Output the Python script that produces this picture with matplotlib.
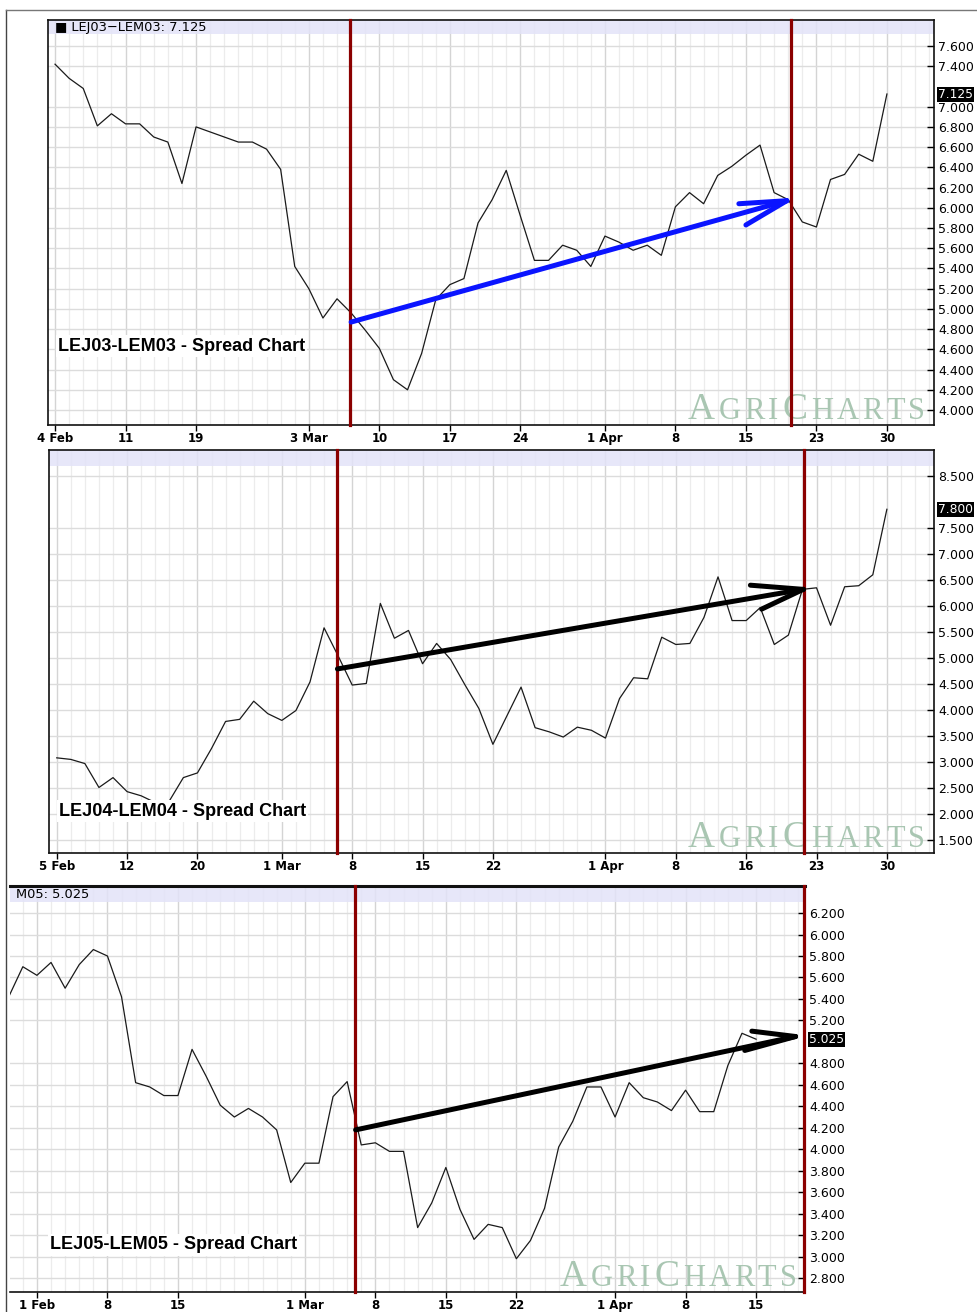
import numpy as np
import matplotlib
matplotlib.use("Agg")
import matplotlib.pyplot as plt
from matplotlib.patches import Rectangle
from matplotlib.ticker import FixedLocator, FormatStrFormatter
from matplotlib.offsetbox import TextArea, HPacker, AnchoredOffsetbox

plt.rcParams["font.family"] = ["Liberation Sans", "DejaVu Sans"]

# ── Panel 1: LEJ03-LEM03 ─────────────────────────────────────────────────────
p1_values = [7.42, 7.28, 7.18, 6.81, 6.93, 6.83, 6.83, 6.70, 6.65, 6.24,
             6.80, 6.75, 6.70, 6.65, 6.65, 6.58, 6.38, 5.42, 5.20, 4.91,
             5.10, 4.96, 4.79, 4.61, 4.30, 4.20, 4.56, 5.09, 5.24, 5.30,
             5.85, 6.08, 6.37, 5.92, 5.48, 5.48, 5.63, 5.58, 5.42, 5.72,
             5.66, 5.58, 5.63, 5.53, 6.01, 6.15, 6.04, 6.32, 6.41, 6.52,
             6.62, 6.15, 6.08, 5.86, 5.81, 6.28, 6.33, 6.53, 6.46, 7.125]
p1_start = 0
p1_tick_pos = [0, 5, 10, 18, 23, 28, 33, 39, 44, 49, 54, 59]
p1_tick_labels = ["4 Feb", "11", "19", "3 Mar", "10", "17", "24", "1 Apr", "8", "15", "23", "30"]
p1_yticks = [4.0, 4.2, 4.4, 4.6, 4.8, 5.0, 5.2, 5.4, 5.6, 5.8, 6.0, 6.2,
             6.4, 6.6, 6.8, 7.0, 7.4, 7.6]
p1_marks = [20.95, 52.2]
p1_shaft = [(21.0, 4.87), (51.9, 6.07)]
p1_barbs = [(48.5, 6.04), (49.0, 5.83)]

# ── Panel 2: LEJ04-LEM04 ─────────────────────────────────────────────────────
p2_values = [3.08, 3.05, 2.97, 2.51, 2.70, 2.43, 2.35, 2.22, 2.25, 2.70,
             2.79, 3.26, 3.78, 3.82, 4.17, 3.93, 3.80, 3.99, 4.54, 5.58,
             5.04, 4.48, 4.51, 6.05, 5.38, 5.53, 4.89, 5.28, 4.97, 4.49,
             4.03, 3.34, 3.89, 4.44, 3.66, 3.58, 3.48, 3.67, 3.61, 3.46,
             4.22, 4.62, 4.60, 5.40, 5.26, 5.28, 5.78, 6.56, 5.72, 5.72,
             5.97, 5.26, 5.44, 6.32, 6.35, 5.63, 6.37, 6.39, 6.60, 7.86]
p2_start = 0
p2_tick_pos = [0, 5, 10, 16, 21, 26, 31, 39, 44, 49, 54, 59]
p2_tick_labels = ["5 Feb", "12", "20", "1 Mar", "8", "15", "22", "1 Apr", "8", "16", "23", "30"]
p2_yticks = [1.5, 2.0, 2.5, 3.0, 3.5, 4.0, 4.5, 5.0, 5.5, 6.0, 6.5, 7.0, 7.5, 8.5]
p2_marks = [19.9, 53.1]
p2_shaft = [(19.95, 4.79), (53.06, 6.32)]
p2_barbs = [(49.3, 6.40), (50.1, 5.94)]

# ── Panel 3: LEJ05-LEM05 ─────────────────────────────────────────────────────
p3_values = [5.42, 5.70, 5.62, 5.74, 5.50, 5.72, 5.86, 5.80, 5.42, 4.62,
             4.58, 4.50, 4.50, 4.93, 4.68, 4.41, 4.30, 4.38, 4.30, 4.18,
             3.69, 3.87, 3.87, 4.49, 4.63, 4.04, 4.06, 3.98, 3.98, 3.27,
             3.50, 3.83, 3.44, 3.16, 3.30, 3.27, 2.98, 3.15, 3.45, 4.02,
             4.26, 4.58, 4.58, 4.30, 4.62, 4.48, 4.44, 4.36, 4.55, 4.35,
             4.35, 4.78, 5.08, 5.025]
p3_start = -2
p3_tick_pos = [0, 5, 10, 19, 24, 29, 34, 41, 46, 51]
p3_tick_labels = ["1 Feb", "8", "15", "1 Mar", "8", "15", "22", "1 Apr", "8", "15"]
p3_yticks = [2.8, 3.0, 3.2, 3.4, 3.6, 3.8, 4.0, 4.2, 4.4, 4.6, 4.8,
             5.2, 5.4, 5.6, 5.8, 6.0, 6.2]
p3_marks = [22.55, 54.4]
p3_shaft = [(22.6, 4.18), (53.8, 5.05)]
p3_barbs = [(50.7, 5.10), (50.2, 4.92)]

# ── Colours ───────────────────────────────────────────────────────────────────
RED = "#8b0000"
BAND = "#e3e3f8"
WATER = "#a9c6b2"
W, H = 978, 1312

fig = plt.figure(figsize=(W / 100, H / 100), dpi=100)


def px_axes(left, top, right, bottom):
    return fig.add_axes([left / W, 1 - bottom / H, (right - left) / W, (bottom - top) / H])


def watermark(ax, x_anchor):
    parts = [("A", 27), ("G", 22), ("R", 22), ("I", 22), ("C", 27),
             ("H", 22), ("A", 22), ("R", 22), ("T", 22), ("S", 22)]
    boxes = [TextArea(t, textprops=dict(color=WATER, fontsize=s, family="Liberation Serif"))
             for t, s in parts]
    pack = HPacker(children=boxes, align="baseline", pad=0, sep=2.6)
    ab = AnchoredOffsetbox(loc="lower right", child=pack, pad=0, borderpad=0, frameon=False,
                           bbox_to_anchor=(x_anchor, -0.005), bbox_transform=ax.transAxes)
    ab.set_zorder(1.5)
    ax.add_artist(ab)


def draw_panel(ax, values, start, tick_pos, tick_labels, yticks, marks, shaft, barbs,
               arrow_color, xlim, ylim, band_h, title, title_xy, header, last_label):
    x = np.arange(start, start + len(values))
    ax.set_xlim(*xlim)
    ax.set_ylim(*ylim)

    ax.xaxis.set_major_locator(FixedLocator(tick_pos))
    ax.set_xticklabels(tick_labels, fontsize=8.5, fontweight="bold", family="DejaVu Sans")
    ax.xaxis.set_minor_locator(FixedLocator(np.arange(np.ceil(xlim[0]), xlim[1])))
    ax.yaxis.set_major_locator(FixedLocator(yticks))
    ax.yaxis.set_major_formatter(FormatStrFormatter("%.3f"))
    ax.yaxis.tick_right()
    ax.tick_params(axis="y", direction="in", length=5, width=1, pad=3, labelsize=9,
                   right=True, left=False, labelfontfamily="DejaVu Sans")
    ax.tick_params(axis="x", direction="out", length=4, width=1, pad=1)
    ax.tick_params(axis="x", which="minor", length=0)

    ax.set_axisbelow(True)
    ax.grid(which="minor", axis="x", color="#ececec", lw=0.9)
    ax.grid(which="major", axis="x", color="#d4d4d4", lw=1.0)
    ax.grid(which="major", axis="y", color="#dcdcdc", lw=1.0)

    ax.add_patch(Rectangle((0, 1 - band_h), 1, band_h, transform=ax.transAxes,
                           facecolor=BAND, edgecolor="none", alpha=0.85, zorder=0.8))

    watermark(ax, 0.99)

    ax.plot(x, values, color="#1a1a1a", lw=0.9, zorder=3)

    for m in marks:
        ax.axvline(m, color=RED, lw=2.3, zorder=4, clip_on=False)

    (x0, y0), (x1, y1) = shaft
    ax.plot([x0, x1], [y0, y1], color=arrow_color, lw=3.6, solid_capstyle="round", zorder=5)
    for bx, by in barbs:
        ax.plot([bx, x1], [by, y1], color=arrow_color, lw=3.6, solid_capstyle="round", zorder=5)

    ax.text(title_xy[0], title_xy[1], title, transform=ax.transAxes, fontsize=13,
            fontweight="bold", ha="left", va="center", zorder=6,
            bbox=dict(boxstyle="square,pad=0.12", fc="white", ec="none"))

    if header:
        ax.text(0.008, 1 - band_h / 2, header, transform=ax.transAxes, fontsize=9.4,
                ha="left", va="center", zorder=6, family=["DejaVu Sans"])

    ax.annotate(last_label, xy=(1.0, values[-1]), xycoords=ax.get_yaxis_transform(),
                xytext=(3.0, 0), textcoords="offset points", ha="left", va="center",
                fontsize=8.8, color="white", zorder=7, annotation_clip=False,
                family="DejaVu Sans",
                bbox=dict(boxstyle="square,pad=0.08", fc="black", ec="none"))

    for s in ax.spines.values():
        s.set_color("#111111")
        s.set_linewidth(1.2)


ax1 = px_axes(48, 20, 934, 425)
draw_panel(ax1, p1_values, p1_start, p1_tick_pos, p1_tick_labels, p1_yticks, p1_marks,
           p1_shaft, p1_barbs, "#0a14ff", (-0.5, 62.34), (3.852, 7.857), 14 / 405,
           "LEJ03-LEM03 - Spread Chart", (0.011, 0.195), "\u25a0 LEJ03\u2212LEM03: 7.125", "7.125")

ax2 = px_axes(49, 450, 934, 853)
draw_panel(ax2, p2_values, p2_start, p2_tick_pos, p2_tick_labels, p2_yticks, p2_marks,
           p2_shaft, p2_barbs, "black", (-0.55, 62.35), (1.25, 9.0), 16 / 403,
           "LEJ04-LEM04 - Spread Chart", (0.011, 0.104), None, "7.800")

ax3 = px_axes(10, 886, 805, 1292)
draw_panel(ax3, p3_values, p3_start, p3_tick_pos, p3_tick_labels, p3_yticks, p3_marks,
           p3_shaft, p3_barbs, "black", (-1.91, 54.47), (2.67, 6.452), 16 / 406,
           "LEJ05-LEM05 - Spread Chart", (0.05, 0.116), "M05: 5.025", "5.025")
ax3.spines["left"].set_visible(False)
ax3.spines["top"].set_linewidth(2.2)
ax3.spines["right"].set_visible(False)

# figure frame
fig.add_artist(plt.Line2D([6 / W, 6 / W], [0, 1 - 10 / H], color="#444444", lw=1.0))
fig.add_artist(plt.Line2D([6 / W, 1], [1 - 10 / H, 1 - 10 / H], color="#777777", lw=1.0))

fig.savefig("out.png", dpi=100)
